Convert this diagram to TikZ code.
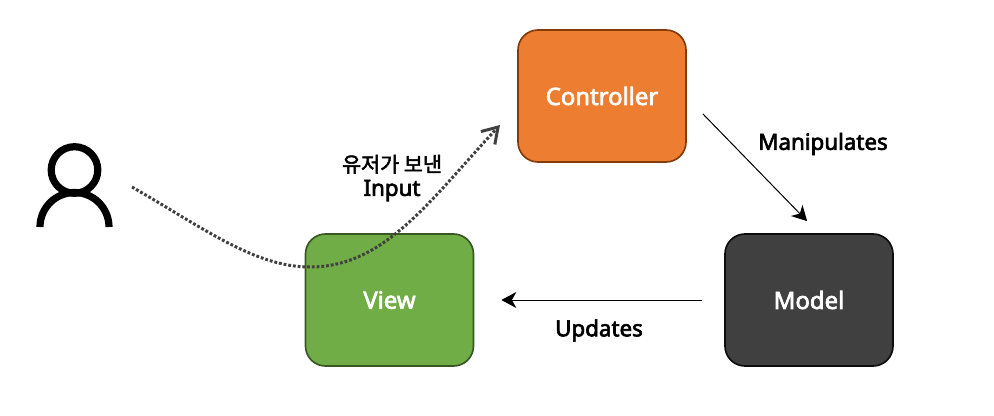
\documentclass[tikz,border=0pt]{standalone}
\usepackage{fontspec}
\setmainfont{Noto Sans}[FakeBold=2.8]
\newfontfamily\korean{Noto Sans CJK KR}[FakeBold=2.4]
\usetikzlibrary{arrows.meta}
\definecolor{ink}{HTML}{000000}
\definecolor{orangefill}{HTML}{ED7D31}
\definecolor{orangeline}{HTML}{843C0C}
\definecolor{greenfill}{HTML}{70AD47}
\definecolor{greenline}{HTML}{385723}
\definecolor{darkfill}{HTML}{404040}
\definecolor{darkline}{HTML}{0D0D0D}
\tikzset{block/.style={minimum width=3.36cm,minimum height=2.64cm,rounded corners=.4cm,line width=.95pt,text=white,font=\fontsize{13.6}{15}\selectfont},
flow/.style={-{Stealth[length=.3cm,width=.32cm,inset=.09cm]},line width=.57pt,ink},
inputflow/.style={-{Straight Barb[length=.3cm,width=.38cm]},line width=1.7pt,darkfill,dash pattern=on 1.6pt off 1.1pt},
lab/.style={font=\fontsize{12.7}{13.6}\selectfont,text=ink,align=center}}
\begin{document}
\begin{tikzpicture}
\useasboundingbox (0,0) rectangle (19.88,8.3);
\node[block,draw=orangeline,fill=orangefill] (controller) at (12.04,6.38) {Controller};
\node[block,draw=darkline,fill=darkfill] (model) at (16.18,2.3) {Model};
\node[block,draw=greenline,fill=greenfill] (view) at (7.79,2.3) {View};
\draw[flow] ([shift={(.32,.98)}]controller.south east) -- ([shift={(1.66,.24)}]model.north west);
\draw[flow] ([xshift=-.44cm]model.west) -- ([xshift=.54cm]view.east);
\node[lab] (manipulates) at (16.46,5.42) {Manipulates};
\node[lab] (updates) at (11.98,1.69) {Updates};
\node[lab] (inputlab) at (7.84,4.74) {{\korean\fontsize{11.8}{13.6}\selectfont 유저가 보낸}\\Input};
% user icon
\draw[ink,line width=4.1pt] (1.49,4.9) circle (.466);
\draw[ink,line width=4.1pt] (.8,3.76) arc (180:0:.69);
\coordinate (inputstart) at (2.64,4.56);
\coordinate (inputend) at (10,5.8);
\draw[inputflow] (inputstart) .. controls (4.1,3.72) and (5.1,2.96) .. (6.2,2.96) .. controls (7.7,2.96) and (8.6,4.3) .. (inputend);
\end{tikzpicture}
\end{document}
